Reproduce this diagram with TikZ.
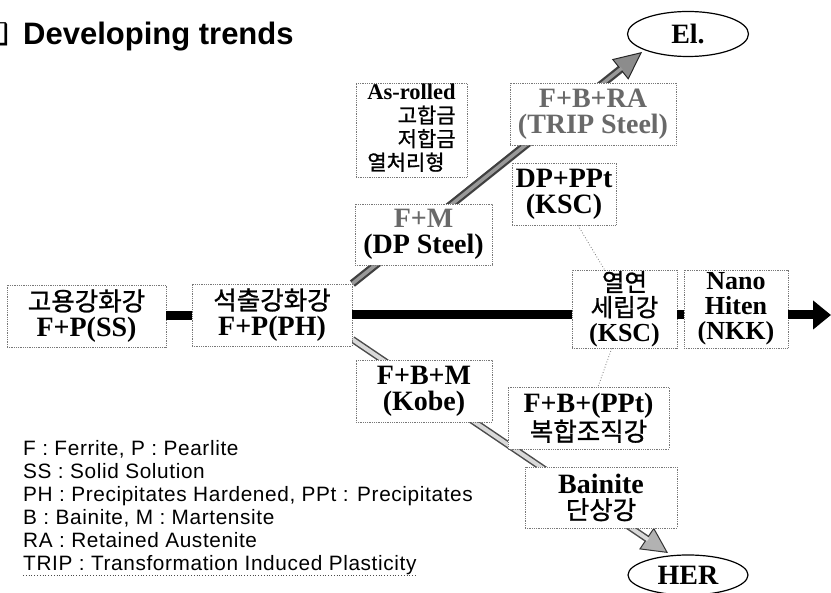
\documentclass[tikz,border=0pt]{standalone}
\usepackage{fontspec}
\setmainfont{Liberation Serif}
\newfontfamily\krfont[UprightFeatures={FakeBold=1}]{Noto Sans CJK KR}
\newfontfamily\headfont{Liberation Sans}
\newfontfamily\legfont[LetterSpace=3]{Liberation Sans}
\newfontfamily\symfont{DejaVu Sans}
\usetikzlibrary{arrows.meta,shapes.geometric,backgrounds}
\definecolor{edge}{RGB}{120,120,120}
\definecolor{hol}{RGB}{105,105,105}
\newcommand{\kor}[2][25.5]{{\krfont\mdseries\fontsize{#1}{25}\selectfont #2}}
\newcommand{\hol}[1]{\textcolor{hol}{#1}}

\begin{document}
\begin{tikzpicture}[x=1pt,y=-1pt,
    box/.style={draw=edge,densely dotted,line width=0.8pt,fill=white,
                align=center,inner sep=0pt,
                font=\fontsize{28}{26}\selectfont\bfseries},
    goal/.style={ellipse,draw=black,line width=1.2pt,fill=white,inner sep=0pt,
                 font=\fontsize{28}{28}\selectfont\bfseries},
    legend/.style={anchor=base west,inner sep=0pt,
                   font=\legfont\fontsize{20.8}{21}\selectfont},
    mainbar/.style={line width=9pt,black},
    dotline/.style={dotted,edge,line width=0.8pt}]
    \useasboundingbox (0,0) rectangle (831,593);
    % title
    \node[anchor=base west,inner sep=0pt,
          font=\headfont\fontsize{31}{32}\selectfont\bfseries] (title) at (23,45)
          {Developing trends};
    \node[anchor=base east,inner sep=0pt,font=\symfont\fontsize{30}{32}\selectfont]
          (bullet) at ([xshift=-13pt]title.base west) {❑};
    % main line
    \node[box,minimum width=159pt,minimum height=62pt] (ss) at (86.5,316)
          {\kor{고용강화강}\\F+P(SS)};
    \node[box,minimum width=160pt,minimum height=62pt] (ph) at (272,315)
          {\kor{석출강화강}\\F+P(PH)};
    \node[box,minimum width=105pt,minimum height=78pt,
          font=\fontsize{26}{25}\selectfont\bfseries] (ksc) at (624.5,309)
          {\kor[24.5]{열연}\\\kor[24.5]{세립강}\\(KSC)};
    \node[box,minimum width=104pt,minimum height=78pt,
          font=\fontsize{26}{25}\selectfont\bfseries] (nkk) at (736,309)
          {Nano\\Hiten\\(NKK)};
    % upper branch
    \node[box,minimum width=111pt,minimum height=94pt,
          font=\fontsize{22.5}{20}\selectfont\bfseries] (asrolled) at (411.5,130)
          {\begin{tabular}{@{}l@{}}As-rolled\\\hfill\kor[21]{고합금}\\
           \hfill\kor[21]{저합금}\\\kor[21]{열처리형}\end{tabular}};
    \node[box,minimum width=137pt,minimum height=61pt] (dp) at (423.5,234.5)
          {\hol{F+M}\\(DP Steel)};
    \node[box,minimum width=166pt,minimum height=62pt] (trip) at (593,114)
          {\hol{F+B+RA}\\\hol{(TRIP Steel)}};
    \node[box,minimum width=104pt,minimum height=62pt] (dpppt) at (564,194)
          {DP+PPt\\(KSC)};
    \node[goal,minimum width=121pt,minimum height=45pt] (el) at (688,34) {El.};
    % lower branch
    \node[box,minimum width=136pt,minimum height=62pt] (kobe) at (424,391)
          {F+B+M\\(Kobe)};
    \node[box,minimum width=161pt,minimum height=62pt] (fbppt) at (588.5,418)
          {F+B+(PPt)\\\kor{복합조직강}};
    \node[box,minimum width=152pt,minimum height=61pt] (bainite) at (601,497.5)
          {Bainite\\\kor{단상강}};
    \node[goal,minimum width=120pt,minimum height=40pt] (her) at (688,575) {HER};
    % connectors
    \coordinate (eltip) at (642,52);
    \coordinate (hertip) at (668,553);
    \coordinate (endtip) at (831,315);
    \begin{scope}[on background layer]
      \draw[line width=8pt,black!75,
            -{Triangle[length=28pt,width=26pt,fill=black!45,color=black!85,line width=1pt]}]
            (ph.north east) -- (eltip);
      \draw[line width=3.5pt,black!40,shorten >=26pt] (ph.north east) -- (eltip);
      \draw[line width=7pt,black!70,
            -{Triangle[length=26pt,width=26pt,fill=black!30,color=black!80,line width=1pt]}]
            ([yshift=7pt]ph.south east) -- (hertip);
      \draw[line width=4pt,black!15,shorten >=24pt] ([yshift=7pt]ph.south east) -- (hertip);
    \end{scope}
    \draw[mainbar] (ss.east) -- (ss.east -| ph.west);
    \draw[mainbar] (ph.east) -- (ph.east -| ksc.west);
    \draw[mainbar] (ksc.east |- ph.east) -- (nkk.west |- ph.east);
    \draw[mainbar,-{Triangle[length=18pt,width=28pt]}] (nkk.east |- ph.east) -- (endtip);
    \draw[dotline] (dpppt.-66) -- (ksc.117);
    \draw[dotline] (ksc.-108) -- (fbppt.73);
    % legend
    \node[legend] (leg1) at (23,456) {F : Ferrite, P : Pearlite};
    \node[legend] (leg2) at (23,479) {SS : Solid Solution};
    \node[legend] (leg3) at (23,502) {PH : Precipitates Hardened, PPt : Precipitates};
    \node[legend] (leg4) at (23,525) {B : Bainite, M : Martensite};
    \node[legend] (leg5) at (23,548) {RA : Retained Austenite};
    \node[legend] (leg6) at (23,571) {TRIP : Transformation Induced Plasticity};
    \draw[dotted,black!70,line width=0.8pt] (leg6.south west) -- (leg6.south east);
\end{tikzpicture}
\end{document}
